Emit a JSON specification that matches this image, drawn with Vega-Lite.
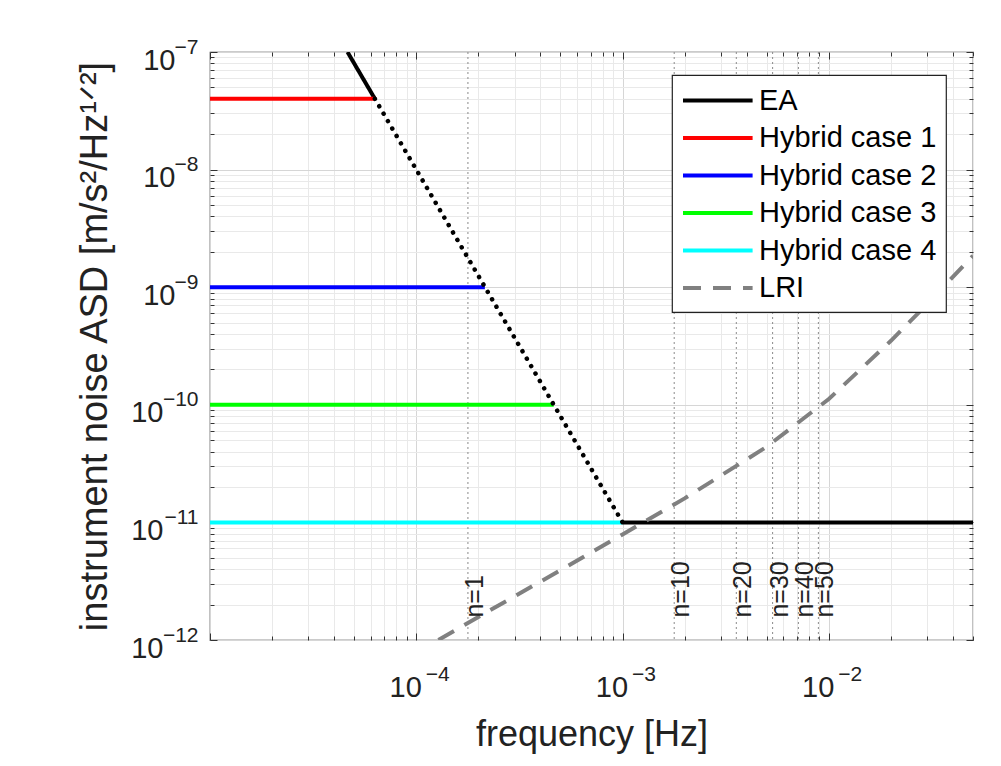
{
  "$schema": "https://vega.github.io/schema/vega-lite/v6.json",
  "width": 763,
  "height": 588,
  "autosize": {"type": "none"},
  "padding": {"left": 210, "top": 52, "right": 28, "bottom": 126},
  "background": "white",
  "config": {
    "view": {"stroke": "#333333", "strokeWidth": 1.2},
    "font": "Liberation Sans",
    "legend": {
      "fillColor": "white",
      "strokeColor": "#222222",
      "strokeWidth": 1.2,
      "padding": 9,
      "symbolType": "M-1,0H3.8",
      "symbolSize": 841,
      "symbolStrokeWidth": 4,
      "labelFont": "Liberation Sans",
      "labelFontSize": 29,
      "labelColor": "black",
      "labelOffset": 45,
      "labelLimit": 0,
      "rowPadding": 5.5
    }
  },
  "datasets": {
    "curves": [
      {"series": "EA", "seg": "EA-high", "f": 4.64e-5, "asd": 1e-7},
      {"series": "EA", "seg": "EA-high", "f": 6.3e-5, "asd": 4e-8},
      {"series": "EA", "seg": "EA-extrap", "f": 6.3e-5, "asd": 4e-8},
      {"series": "EA", "seg": "EA-extrap", "f": 1e-3, "asd": 1e-11},
      {"series": "EA", "seg": "EA-flat", "f": 1e-3, "asd": 1e-11},
      {"series": "EA", "seg": "EA-flat", "f": 5e-2, "asd": 1e-11},
      {"series": "Hybrid case 1", "seg": "H1", "f": 1e-5, "asd": 4e-8},
      {"series": "Hybrid case 1", "seg": "H1", "f": 6.3e-5, "asd": 4e-8},
      {"series": "Hybrid case 2", "seg": "H2", "f": 1e-5, "asd": 1e-9},
      {"series": "Hybrid case 2", "seg": "H2", "f": 2.15e-4, "asd": 1e-9},
      {"series": "Hybrid case 3", "seg": "H3", "f": 1e-5, "asd": 1e-10},
      {"series": "Hybrid case 3", "seg": "H3", "f": 4.64e-4, "asd": 1e-10},
      {"series": "Hybrid case 4", "seg": "H4", "f": 1e-5, "asd": 1e-11},
      {"series": "Hybrid case 4", "seg": "H4", "f": 1e-3, "asd": 1e-11},
      {"series": "LRI", "seg": "LRI", "f": 1.28e-4, "asd": 1.0e-12},
      {"series": "LRI", "seg": "LRI", "f": 2e-4, "asd": 1.57e-12},
      {"series": "LRI", "seg": "LRI", "f": 5e-4, "asd": 3.92e-12},
      {"series": "LRI", "seg": "LRI", "f": 1e-3, "asd": 7.9e-12},
      {"series": "LRI", "seg": "LRI", "f": 2e-3, "asd": 1.6e-11},
      {"series": "LRI", "seg": "LRI", "f": 5e-3, "asd": 4.4e-11},
      {"series": "LRI", "seg": "LRI", "f": 1e-2, "asd": 1.12e-10},
      {"series": "LRI", "seg": "LRI", "f": 2e-2, "asd": 3.5e-10},
      {"series": "LRI", "seg": "LRI", "f": 3e-2, "asd": 7.2e-10},
      {"series": "LRI", "seg": "LRI", "f": 5e-2, "asd": 1.85e-9}
    ],
    "harmonics": [
      {"n": 1, "f": 1.78e-4, "label": "n=1"},
      {"n": 10, "f": 1.78e-3, "label": "n=10"},
      {"n": 20, "f": 3.56e-3, "label": "n=20"},
      {"n": 30, "f": 5.34e-3, "label": "n=30"},
      {"n": 40, "f": 7.12e-3, "label": "n=40"},
      {"n": 50, "f": 8.9e-3, "label": "n=50"}
    ]
  },
  "resolve": {"axis": {"x": "independent", "y": "independent"}},
  "layer": [
    {
      "data": {"name": "harmonics"},
      "mark": {"type": "rule", "color": "#8a8a8a", "strokeWidth": 1, "strokeDash": [2, 3]},
      "encoding": {
        "x": {"field": "f", "type": "quantitative", "axis": null, "scale": {"type": "log", "domain": [1e-5, 5e-2], "nice": false}}
      }
    },
    {
      "data": {"name": "curves"},
      "transform": [{"filter": "datum.seg != 'EA-extrap'"}],
      "mark": {"type": "line", "strokeWidth": 4, "clip": true},
      "encoding": {
        "x": {
          "field": "f", "type": "quantitative",
          "scale": {"type": "log", "domain": [1e-5, 5e-2], "nice": false},
          "axis": {
            "orient": "bottom",
            "values": [1e-5, 2e-5, 3e-5, 4e-5, 5e-5, 6e-5, 7e-5, 8e-5, 9e-5, 1e-4, 2e-4, 3e-4, 4e-4, 5e-4, 6e-4, 7e-4, 8e-4, 9e-4, 1e-3, 2e-3, 3e-3, 4e-3, 5e-3, 6e-3, 7e-3, 8e-3, 9e-3, 1e-2, 2e-2, 3e-2, 4e-2, 5e-2],
            "labelExpr": "datum.value > 2e-5 && abs(log(datum.value)/LN10 - round(log(datum.value)/LN10)) < 0.01 ? '10' : ''",
            "labelOverlap": false,
            "labelFlush": false,
            "labelFont": "Liberation Sans",
            "labelFontSize": 29,
            "labelColor": "#222222",
            "labelAlign": "right",
            "labelOffset": 5,
            "labelPadding": 40,
            "domain": false,
            "grid": true,
            "gridColor": {"condition": {"test": "abs(log(datum.value)/LN10 - round(log(datum.value)/LN10)) < 0.01", "value": "#d6d6d6"}, "value": "#e9e9e9"},
            "gridWidth": 1,
            "tickColor": "#333333",
            "tickSize": {"condition": {"test": "abs(log(datum.value)/LN10 - round(log(datum.value)/LN10)) < 0.01", "value": -7}, "value": -4},
            "title": "frequency [Hz]",
            "titleFont": "Liberation Sans",
            "titleFontSize": 36,
            "titleFontWeight": "normal",
            "titleColor": "#222222",
            "titlePadding": 12
          }
        },
        "y": {
          "field": "asd", "type": "quantitative",
          "scale": {"type": "log", "domain": [1e-12, 1e-7], "nice": false},
          "axis": {
            "orient": "left",
            "values": [1e-12, 2e-12, 3e-12, 4e-12, 5e-12, 6e-12, 7e-12, 8e-12, 9e-12, 1e-11, 2e-11, 3e-11, 4e-11, 5e-11, 6e-11, 7e-11, 8e-11, 9e-11, 1e-10, 2e-10, 3e-10, 4e-10, 5e-10, 6e-10, 7e-10, 8e-10, 9e-10, 1e-9, 2e-9, 3e-9, 4e-9, 5e-9, 6e-9, 7e-9, 8e-9, 9e-9, 1e-8, 2e-8, 3e-8, 4e-8, 5e-8, 6e-8, 7e-8, 8e-8, 9e-8, 1e-7],
            "labelExpr": "abs(log(datum.value)/LN10 - round(log(datum.value)/LN10)) < 0.01 ? '10' : ''",
            "labelOverlap": false,
            "labelFlush": false,
            "labelFont": "Liberation Sans",
            "labelFontSize": 29,
            "labelColor": "#222222",
            "labelAlign": "right",
            "labelBaseline": "middle",
            "labelPadding": {"condition": {"test": "datum.value > 3e-10", "value": 42}, "value": 54},
            "labelOffset": 8,
            "domain": false,
            "grid": true,
            "gridColor": {"condition": {"test": "abs(log(datum.value)/LN10 - round(log(datum.value)/LN10)) < 0.01", "value": "#d6d6d6"}, "value": "#e9e9e9"},
            "gridWidth": 1,
            "tickColor": "#333333",
            "tickSize": {"condition": {"test": "abs(log(datum.value)/LN10 - round(log(datum.value)/LN10)) < 0.01", "value": -7}, "value": -4},
            "title": "instrument noise ASD [m/s²/Hz¹ᐟ²]",
            "titleFont": "Liberation Sans",
            "titleFontSize": 38,
            "titleFontWeight": "normal",
            "titleColor": "#222222",
            "titlePadding": 16
          }
        },
        "color": {
          "field": "series", "type": "nominal",
          "scale": {"domain": ["EA", "Hybrid case 1", "Hybrid case 2", "Hybrid case 3", "Hybrid case 4", "LRI"], "range": ["#000000", "#ff0000", "#0000ff", "#00ff00", "#00ffff", "#808080"]},
          "legend": {"title": null, "orient": "none", "legendX": 462, "legendY": 23}
        },
        "strokeDash": {
          "field": "series", "type": "nominal",
          "scale": {"domain": ["EA", "Hybrid case 1", "Hybrid case 2", "Hybrid case 3", "Hybrid case 4", "LRI"], "range": [[1, 0], [1, 0], [1, 0], [1, 0], [1, 0], [18, 12]]},
          "legend": {"title": null, "orient": "none", "legendX": 462, "legendY": 23}
        },
        "detail": {"field": "seg", "type": "nominal"},
        "order": {"field": "f", "type": "quantitative"}
      }
    },
    {
      "data": {"name": "curves"},
      "transform": [{"filter": "datum.seg == 'EA-extrap'"}],
      "mark": {"type": "line", "color": "black", "strokeWidth": 4.5, "strokeCap": "round", "strokeDash": [0.1, 8.5]},
      "encoding": {
        "x": {
          "field": "f", "type": "quantitative",
          "scale": {"type": "log", "domain": [1e-5, 5e-2], "nice": false},
          "axis": {
            "orient": "top",
            "values": [1e-5, 2e-5, 3e-5, 4e-5, 5e-5, 6e-5, 7e-5, 8e-5, 9e-5, 1e-4, 2e-4, 3e-4, 4e-4, 5e-4, 6e-4, 7e-4, 8e-4, 9e-4, 1e-3, 2e-3, 3e-3, 4e-3, 5e-3, 6e-3, 7e-3, 8e-3, 9e-3, 1e-2, 2e-2, 3e-2, 4e-2, 5e-2],
            "labels": false, "domain": false, "grid": false, "title": null,
            "tickColor": "#333333",
            "tickSize": {"condition": {"test": "abs(log(datum.value)/LN10 - round(log(datum.value)/LN10)) < 0.01", "value": -7}, "value": -4}
          }
        },
        "y": {
          "field": "asd", "type": "quantitative",
          "scale": {"type": "log", "domain": [1e-12, 1e-7], "nice": false},
          "axis": {
            "orient": "right",
            "values": [1e-12, 2e-12, 3e-12, 4e-12, 5e-12, 6e-12, 7e-12, 8e-12, 9e-12, 1e-11, 2e-11, 3e-11, 4e-11, 5e-11, 6e-11, 7e-11, 8e-11, 9e-11, 1e-10, 2e-10, 3e-10, 4e-10, 5e-10, 6e-10, 7e-10, 8e-10, 9e-10, 1e-9, 2e-9, 3e-9, 4e-9, 5e-9, 6e-9, 7e-9, 8e-9, 9e-9, 1e-8, 2e-8, 3e-8, 4e-8, 5e-8, 6e-8, 7e-8, 8e-8, 9e-8, 1e-7],
            "labels": false, "domain": false, "grid": false, "title": null,
            "tickColor": "#333333",
            "tickSize": {"condition": {"test": "abs(log(datum.value)/LN10 - round(log(datum.value)/LN10)) < 0.01", "value": -7}, "value": -4}
          }
        },
        "order": {"field": "f", "type": "quantitative"}
      }
    },
    {
      "data": {"name": "harmonics"},
      "mark": {"type": "text", "angle": 270, "align": "left", "baseline": "middle", "dy": 7, "font": "Liberation Sans", "fontSize": 25, "color": "#222222"},
      "encoding": {
        "x": {
          "field": "f", "type": "quantitative",
          "scale": {"type": "log", "domain": [1e-5, 5e-2], "nice": false},
          "axis": {
            "orient": "bottom",
            "values": [1e-4, 1e-3, 1e-2],
            "labelExpr": "replace('' + round(log(datum.value)/LN10), '-', '−')",
            "labelOverlap": false,
            "labelFlush": false,
            "labelFont": "Liberation Sans",
            "labelFontSize": 21,
            "labelColor": "#222222",
            "labelAlign": "left",
            "labelOffset": 9,
            "labelPadding": 23,
            "ticks": false,
            "tickSize": 0,
            "domain": false,
            "grid": false,
            "title": null
          }
        },
        "y": {
          "datum": 1.55e-12, "type": "quantitative",
          "scale": {"type": "log", "domain": [1e-12, 1e-7], "nice": false},
          "axis": {
            "orient": "left",
            "values": [1e-12, 1e-11, 1e-10, 1e-9, 1e-8, 1e-7],
            "labelExpr": "replace('' + round(log(datum.value)/LN10), '-', '−')",
            "labelOverlap": false,
            "labelFlush": false,
            "labelFont": "Liberation Sans",
            "labelFontSize": 21,
            "labelColor": "#222222",
            "labelAlign": "right",
            "labelBaseline": "middle",
            "labelOffset": -5,
            "labelPadding": 12,
            "ticks": false,
            "tickSize": 0,
            "domain": false,
            "grid": false,
            "title": null
          }
        },
        "text": {"field": "label", "type": "nominal"}
      }
    }
  ]
}
